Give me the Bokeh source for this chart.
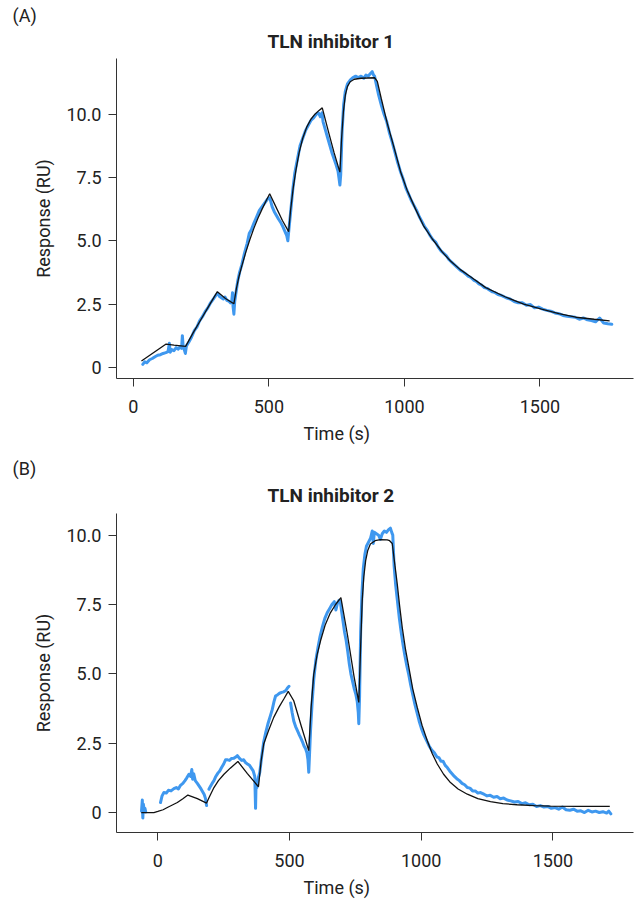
import math
from bokeh.plotting import figure
from bokeh.models import Range1d, FixedTicker, Title
from bokeh.layouts import column
from bokeh.embed import file_html
from bokeh.resources import INLINE

NaN = float("nan")
FONT = "Roboto"
TXT = "#222222"
BLUE = "#3f98ef"

# ---------------- Panel A: TLN inhibitor 1 ----------------
a_title = "TLN inhibitor 1"
a_blue_t = [35, 42, 50, 60, 70, 80, 90, 100, 110, 120, 128, 133, 136, 142, 150, 158, 165, 172, 178, 181, 184, 188, 192,
            196, 205, 215, 225, 235, 245, 255, 265, 275, 285, 295, 305, 312,
            318, 325, 332, 338, 345, 352, 358, 363, 366, 368, 371, 374,
            378, 385, 392, 400, 410, 420, 428, 436, 445, 455, 465, 475, 485, 495, 502,
            506, 512, 520, 528, 536, 545, 552, 560, 566, 570, 574,
            580, 588, 596, 605, 615, 625, 635, 645, 655, 665, 675, 683, 690, 696,
            700, 708, 716, 724, 732, 740, 748, 755, 759, 762, 765,
            770, 776, 782, 790, 800, 810, 820, 830, 840, 850, 858, 866, 874, 881, 886, 890,
            896, 905, 915, 925, 935, 945, 955, 965, 975, 985, 995, 1005, 1015, 1025, 1035, 1045, 1055, 1065, 1075,
            1085, 1095, 1105, 1115, 1125, 1135, 1145, 1155, 1165, 1175, 1185, 1195, 1205, 1215, 1225, 1235, 1245,
            1255, 1265, 1275, 1285, 1295, 1305, 1315, 1325, 1335, 1345, 1355, 1365, 1375, 1390, 1405, 1420, 1435,
            1450, 1465, 1480, 1495, 1510, 1525, 1540, 1555, 1570, 1585, 1600, 1615, 1630, 1645, 1660, 1675, 1690,
            1705, 1720, 1735, 1750, 1765]
a_blue_v = [0.12, 0.22, 0.18, 0.30, 0.35, 0.42, 0.48, 0.50, 0.55, 0.58, 0.62, 0.95, 0.60, 0.70, 0.66, 0.78, 0.72, 0.80, 0.75, 1.25, 0.80, 0.70, 0.55,
            0.85, 1.00, 1.20, 1.45, 1.60, 1.85, 2.00, 2.20, 2.35, 2.55, 2.70, 2.85, 2.92,
            2.80, 2.75, 2.70, 2.78, 2.65, 2.62, 2.55, 2.60, 2.95, 2.40, 2.10, 2.60,
            2.90, 3.40, 3.75, 4.05, 4.50, 4.90, 5.30, 5.45, 5.70, 5.95, 6.20, 6.35, 6.50, 6.65, 6.70,
            6.60, 6.35, 6.15, 6.00, 5.85, 5.70, 5.55, 5.35, 5.20, 5.00, 5.45,
            6.10, 7.00, 7.70, 8.20, 8.75, 9.05, 9.35, 9.55, 9.75, 9.85, 10.00, 10.05, 9.90, 10.05,
            9.70, 9.40, 9.10, 8.80, 8.50, 8.25, 8.00, 7.75, 7.45, 7.20, 7.60,
            9.30, 10.40, 10.90, 11.20, 11.35, 11.45, 11.50, 11.45, 11.50, 11.42, 11.55, 11.50, 11.60, 11.68, 11.55, 11.50,
            11.20, 10.75, 10.35, 10.00, 9.70, 9.25, 8.90, 8.50, 8.10, 7.75, 7.45, 7.10, 6.85, 6.60, 6.40, 6.20, 5.95, 5.75, 5.55,
            5.40, 5.20, 5.05, 4.95, 4.75, 4.60, 4.50, 4.40, 4.25, 4.15, 4.05, 3.95, 3.85, 3.78, 3.70, 3.60, 3.55,
            3.45, 3.40, 3.30, 3.25, 3.15, 3.12, 3.05, 2.98, 2.95, 2.88, 2.85, 2.80, 2.75, 2.70, 2.60, 2.55, 2.55,
            2.45, 2.48, 2.35, 2.38, 2.30, 2.25, 2.22, 2.15, 2.12, 2.05, 2.02, 2.00, 1.98, 1.90, 1.95, 1.88, 1.85,
            1.80, 1.95, 1.75, 1.72, 1.70]
a_fit_t = [30, 121, 150, 193, 220, 250, 280, 310, 340, 371, 380, 390, 400, 415, 430, 445, 460, 475, 490, 503,
           530, 550, 573, 580, 590, 600, 612, 625, 640, 655, 670, 685, 697, 720, 740, 762,
           768, 775, 782, 790, 800, 815, 840, 890, 900, 915, 937, 960, 986, 1010, 1041, 1070, 1103,
           1140, 1170, 1205, 1240, 1300, 1373, 1440, 1506, 1570, 1632, 1700, 1757]
a_fit_v = [0.25, 0.92, 0.88, 0.83, 1.35, 1.90, 2.45, 2.99, 2.72, 2.51, 3.10, 3.60, 4.00, 4.55, 5.05, 5.50, 5.90, 6.25, 6.58, 6.86,
           6.25, 5.80, 5.36, 6.20, 7.10, 7.80, 8.50, 9.05, 9.50, 9.80, 10.00, 10.15, 10.25, 9.30, 8.50, 7.71,
           9.00, 10.10, 10.75, 11.10, 11.28, 11.38, 11.42, 11.44, 11.30, 10.60, 9.63, 8.75, 7.72, 7.00, 6.25, 5.60, 5.07,
           4.55, 4.20, 3.87, 3.61, 3.15, 2.78, 2.50, 2.30, 2.12, 1.98, 1.90, 1.84]

# ---------------- Panel B: TLN inhibitor 2 ----------------
b_title = "TLN inhibitor 2"
b_blue_t = [-62, -59, -57, -55, -52, -49, -46, NaN,
            10, 16, 23, 32, 40, 50, 61, 70, 78, 86, 95, 103, 110, 118, 124, 129, 132, 136, 142, 150, 157, 164, 170, 176, 181, 185, NaN,
            194, 200, 206, 213, 220, 228, 235, 242, 250, 257, 265, 272, 280, 289, 296, 302, 310, 318, 326, 333, 340, 348, 355, 362, 368, 371, 373, 376,
            380, 387, 394, 402, 410, 418, 426, 434, 441, 447, 455, 462, 470, 478, 486, 493, 498, NaN,
            504, 510, 516, 523, 530, 537, 543, 549, 555, 561, 566, 570, 573, 576,
            580, 586, 592, 600, 608, 616, 625, 634, 643, 652, 661, 670, 676, 682, 688, 693,
            697, 703, 709, 715, 721, 727, 733, 740, 746, 752, 757, 761, 763, 766,
            770, 775, 780, 786, 792, 800, 808, 814, 818, 822, 830, 838, 845, 852, 860, 868, 876, 883, 888, 892,
            897, 903, 910, 917, 924, 931, 938, 945, 952, 960, 968, 976, 984, 992, 1000, 1010, 1020, 1030, 1040, 1050,
            1060, 1067, 1075, 1083, 1091, 1099, 1108, 1117, 1126, 1135, 1145, 1155, 1165, 1175, 1185, 1195, 1205, 1215,
            1225, 1238, 1250, 1262, 1275, 1288, 1300, 1313, 1326, 1340, 1354, 1368, 1382, 1396, 1410, 1424, 1438, 1452,
            1466, 1480, 1494, 1508, 1522, 1536, 1550, 1564, 1578, 1592, 1606, 1620, 1634, 1648, 1662, 1676, 1690, 1704, 1712, 1720]
b_blue_v = [0.05, 0.45, -0.20, 0.30, 0.10, 0.15, 0.02, NaN,
            0.36, 0.60, 0.72, 0.70, 0.80, 0.78, 0.86, 0.90, 0.85, 0.98, 1.05, 1.15, 1.25, 1.38, 1.30, 1.55, 1.20, 1.40, 1.15, 1.05, 0.95, 0.85, 0.75, 0.65, 0.50, 0.25, NaN,
            0.84, 0.95, 1.05, 1.15, 1.30, 1.42, 1.50, 1.62, 1.75, 1.90, 1.90, 1.88, 1.95, 1.96, 2.00, 2.05, 1.95, 1.88, 1.90, 1.80, 1.75, 1.70, 1.60, 1.50, 1.30, 0.15, 1.10, 0.90,
            1.20, 1.45, 2.00, 2.55, 2.90, 3.20, 3.45, 3.70, 4.00, 4.20, 4.25, 4.30, 4.33, 4.35, 4.40, 4.50, 4.55, NaN,
            3.95, 3.60, 3.30, 3.10, 2.95, 2.80, 2.68, 2.55, 2.40, 2.30, 2.15, 1.90, 1.45, 2.10,
            3.00, 4.00, 4.80, 5.50, 5.95, 6.35, 6.70, 7.00, 7.20, 7.35, 7.50, 7.60, 7.30, 7.55, 7.65, 7.60,
            7.30, 6.90, 6.50, 6.20, 5.80, 5.35, 5.00, 4.70, 4.45, 4.25, 4.00, 3.60, 3.20, 4.20,
            6.50, 7.90, 8.80, 9.30, 9.60, 9.75, 9.90, 10.15, 9.70, 10.10, 10.05, 10.00, 9.85, 10.05, 10.15, 10.10, 10.20, 10.25, 10.10, 10.00,
            8.90, 8.20, 7.60, 7.00, 6.50, 6.05, 5.65, 5.30, 5.00, 4.60, 4.25, 3.90, 3.60, 3.30, 3.05, 2.80, 2.60, 2.40, 2.25, 2.15,
            2.00, 1.98, 1.85, 1.85, 1.70, 1.62, 1.50, 1.40, 1.30, 1.22, 1.15, 1.05, 1.00, 0.90, 0.88, 0.78, 0.78, 0.70,
            0.72, 0.66, 0.60, 0.62, 0.55, 0.58, 0.50, 0.52, 0.45, 0.42, 0.38, 0.40, 0.32, 0.35, 0.28, 0.30, 0.22, 0.25,
            0.20, 0.22, 0.15, 0.18, 0.12, 0.20, 0.10, 0.08, 0.12, 0.05, 0.06, 0.00, 0.08, 0.02, 0.05, 0.00, 0.03, -0.02, 0.05, -0.05]
b_fit_t = [-63, -15, 0, 20, 36, 55, 74, 95, 114, 150, 185, 195, 213, 230, 251, 275, 304, 340, 382,
           392, 402, 420, 440, 460, 480, 495, 516, 545, 573, 582, 592, 605, 618, 635, 655, 675, 695,
           720, 745, 763, 770, 776, 782, 789, 797, 807, 825, 845, 871, 880, 890,
           899, 909, 918, 928, 940, 953, 968, 985, 1003, 1023, 1042, 1061, 1085, 1111, 1140, 1175,
           1215, 1263, 1310, 1364, 1430, 1491, 1600, 1716]
b_fit_v = [0.00, 0.00, 0.04, 0.10, 0.18, 0.27, 0.36, 0.50, 0.63, 0.50, 0.34, 0.55, 0.90, 1.15, 1.38, 1.60, 1.84, 1.40, 0.93,
           1.85, 2.47, 2.95, 3.43, 3.80, 4.12, 4.37, 4.03, 3.10, 2.23, 3.80, 4.99, 5.70, 6.20, 6.75, 7.20, 7.50, 7.75,
           6.40, 4.90, 3.97, 6.00, 7.64, 8.50, 9.08, 9.45, 9.68, 9.80, 9.84, 9.83, 9.80, 9.70,
           9.00, 8.24, 7.45, 6.67, 5.90, 5.23, 4.45, 3.79, 3.15, 2.59, 2.12, 1.75, 1.38, 1.08, 0.85, 0.66,
           0.50, 0.39, 0.32, 0.28, 0.25, 0.23, 0.22, 0.22]

x_ticks = [0, 500, 1000, 1500]
y_ticks = [0, 2.5, 5, 7.5, 10]
y_tick_labels = {0: "0", 2.5: "2.5", 5: "5.0", 7.5: "7.5", 10: "10.0"}


def make_panel(tag, title, bt, bv, ft, fv, xr, yr, height, top, bottom, title_standoff):
    p = figure(width=636, height=height, output_backend="svg", toolbar_location=None,
               x_range=Range1d(*xr), y_range=Range1d(*yr),
               min_border_left=116, min_border_right=3, min_border_top=top, min_border_bottom=bottom)
    p.outline_line_color = None
    p.xgrid.grid_line_color = None
    p.ygrid.grid_line_color = None
    p.background_fill_color = "white"
    p.border_fill_color = "white"

    p.line(bt, bv, line_color=BLUE, line_width=3, line_join="round", line_cap="round")
    p.line(ft, fv, line_color="#111111", line_width=1.3)

    for ax in (p.xaxis[0], p.yaxis[0]):
        ax.axis_line_color = "#333333"
        ax.major_tick_line_color = "#333333"
        ax.minor_tick_line_color = None
        ax.major_tick_in = 0
        ax.major_tick_out = 8
        ax.major_label_text_font = FONT
        ax.major_label_text_font_size = "18px"
        ax.major_label_text_color = TXT
        ax.axis_label_text_font = FONT
        ax.axis_label_text_font_size = "18px"
        ax.axis_label_text_font_style = "normal"
        ax.axis_label_text_color = TXT
    p.xaxis.ticker = FixedTicker(ticks=x_ticks)
    p.yaxis.ticker = FixedTicker(ticks=y_ticks)
    p.yaxis.major_label_overrides = y_tick_labels
    p.xaxis.major_label_standoff = 13
    p.yaxis.major_label_standoff = 7
    p.yaxis.axis_label = "Response (RU)"
    p.yaxis.axis_label_standoff = 9

    # outer title: panel tag
    p.title.text = tag
    p.title.align = "left"
    p.title.offset = -104
    p.title.vertical_align = "bottom"
    p.title.text_font = FONT
    p.title.text_font_size = "18px"
    p.title.text_font_style = "normal"
    p.title.text_color = TXT
    p.title.standoff = 0

    # inner title (next to the frame): compound name
    p.add_layout(Title(text=title, align="left", offset=151, vertical_align="top", text_font=FONT,
                       text_font_size="19px", text_font_style="bold", text_color=TXT,
                       standoff=title_standoff), "above")
    p.add_layout(Title(text="Time (s)", align="left", offset=187, text_font=FONT, text_font_size="18px",
                       text_font_style="normal", text_color=TXT, standoff=10), "below")
    return p


pa = make_panel("(A)", a_title, a_blue_t, a_blue_v, a_fit_t, a_fit_v, (-62, 1845), (-0.44, 12.2), 451, 58, 73, 8)
pb = make_panel("(B)", b_title, b_blue_t, b_blue_v, b_fit_t, b_fit_v, (-157, 1806), (-0.72, 10.78), 451, 62, 69, 10)

layout = column(pa, pb, spacing=0)
open("out.html", "w").write(file_html(layout, INLINE))
